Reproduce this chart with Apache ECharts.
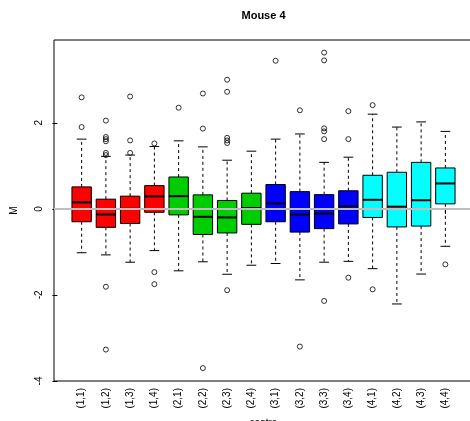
<!DOCTYPE html>
<html>
<head>
<meta charset="utf-8">
<script src="https://cdn.jsdelivr.net/npm/echarts@6/dist/echarts.min.js"></script>
<style>html,body{margin:0;padding:0;background:#fff}#c{width:470px;height:421px}</style>
</head>
<body>
<div id="c"></div>
<script>
const categories = ['(1,1)','(1,2)','(1,3)','(1,4)','(2,1)','(2,2)','(2,3)','(2,4)','(3,1)','(3,2)','(3,3)','(3,4)','(4,1)','(4,2)','(4,3)','(4,4)'];
const lowWhisker = [-1.02,-1.07,-1.24,-0.97,-1.44,-1.23,-1.52,-1.31,-1.27,-1.65,-1.24,-1.22,-1.39,-2.21,-1.515,-0.87];
const q1 =         [-0.30,-0.43,-0.34,-0.08,-0.14,-0.595,-0.56,-0.36,-0.30,-0.54,-0.46,-0.35,-0.20,-0.42,-0.40,0.116];
const median =     [0.15,-0.13,0.00,0.29,0.295,-0.185,-0.20,0.02,0.125,-0.13,-0.11,0.06,0.21,0.05,0.20,0.59];
const q3 =         [0.51,0.225,0.295,0.54,0.74,0.325,0.195,0.364,0.565,0.40,0.33,0.42,0.78,0.85,1.08,0.95];
const highWhisker =[1.62,1.22,1.25,1.45,1.58,1.44,1.13,1.34,1.62,1.74,1.08,1.20,2.20,1.90,2.02,1.80];
const outliers = [
  [2.59,1.90],
  [2.05,1.67,1.62,1.57,1.30,1.25,-1.81,-3.27],
  [2.61,1.59,1.30],
  [1.52,-1.47,-1.75],
  [2.35],
  [2.68,1.865,-3.70],
  [3.00,2.72,1.65,1.59,1.53,-1.89],
  [],
  [3.44],
  [2.29,-3.20],
  [3.63,3.45,1.87,1.80,1.62,-2.14],
  [2.27,1.62,-1.60],
  [2.41,-1.87],
  [],
  [],
  [-1.29]
];
const yTicks = [-4,-2,0,2];
const groupColors = ['#FF0000','#00CD00','#0000FF','#00FFFF'];

const boxData = categories.map((c,i)=>[i+1, lowWhisker[i], q1[i], median[i], q3[i], highWhisker[i]]);
const outData = [];
outliers.forEach((arr,i)=>arr.forEach(v=>outData.push([i+1, v])));
const allVals = lowWhisker.concat(highWhisker, outliers.flat());
const dLo = Math.min(...allVals), dHi = Math.max(...allVals);
const pad = 0.04*(dHi-dLo);
const n = categories.length;
const xPad = 0.04*n;

const chart = echarts.init(document.getElementById('c'), null, {renderer:'canvas'});
chart.setOption({
  animation:false,
  backgroundColor:'#fff',
  textStyle:{fontFamily:'Liberation Sans, Arial, sans-serif'},
  graphic:[{type:'text', x:263.5, y:16, style:{text:'Mouse 4', textAlign:'center', textVerticalAlign:'middle', font:'bold 11px "Liberation Sans", Arial, sans-serif', fill:'#000'}}],
  grid:{left:54, right:-3, top:40, bottom:40, show:true, borderColor:'#000', borderWidth:1, backgroundColor:'transparent', containLabel:false, outerBoundsMode:'none'},
  xAxis:{
    type:'value', min:0.5-xPad, max:n+0.5+xPad,
    splitLine:{show:false}, axisLine:{show:false},
    axisTick:{show:true, customValues:categories.map((c,i)=>i+1), length:5, lineStyle:{color:'#000'}},
    axisLabel:{customValues:categories.map((c,i)=>i+1), formatter:v=>categories[Math.round(v)-1], rotate:90, fontSize:10, color:'#000', margin:7},
    name:'centre', nameLocation:'middle', nameGap:37, nameTextStyle:{fontSize:10, color:'#000'}
  },
  yAxis:{
    type:'value', min:-4, max:dHi+pad,
    splitLine:{show:false}, axisLine:{show:false},
    axisTick:{show:true, customValues:yTicks, length:5, lineStyle:{color:'#000'}},
    axisLabel:{customValues:yTicks, rotate:90, fontSize:10, color:'#000', margin:10, showMinLabel:true},
    name:'M', nameLocation:'middle', nameGap:35, nameRotate:90, nameTextStyle:{fontSize:10, color:'#000'}
  },
  series:[
    {
      type:'custom', z:1,
      data:boxData,
      encode:{x:0, y:[1,2,3,4,5]},
      renderItem:function(params, api){
        const x = api.value(0);
        const idx = params.dataIndex;
        const pLo = api.coord([x, api.value(1)]);
        const pQ1 = api.coord([x, api.value(2)]);
        const pMd = api.coord([x, api.value(3)]);
        const pQ3 = api.coord([x, api.value(4)]);
        const pHi = api.coord([x, api.value(5)]);
        const bw = api.size([0.8, 0])[0];
        const sw = bw*0.5;
        const cx = pMd[0];
        const dash = {stroke:'#000', lineWidth:1, lineDash:[3,3]};
        const solid = {stroke:'#000', lineWidth:1};
        return {type:'group', children:[
          {type:'line', shape:{x1:cx, y1:pQ3[1], x2:cx, y2:pHi[1]}, style:dash},
          {type:'line', shape:{x1:cx, y1:pQ1[1], x2:cx, y2:pLo[1]}, style:dash},
          {type:'line', shape:{x1:cx-sw/2, y1:pHi[1], x2:cx+sw/2, y2:pHi[1]}, style:solid},
          {type:'line', shape:{x1:cx-sw/2, y1:pLo[1], x2:cx+sw/2, y2:pLo[1]}, style:solid},
          {type:'rect', shape:{x:cx-bw/2, y:pQ3[1], width:bw, height:pQ1[1]-pQ3[1]}, style:{fill:groupColors[Math.floor(idx/4)], stroke:'#000', lineWidth:1}},
          {type:'line', shape:{x1:cx-bw/2, y1:pMd[1], x2:cx+bw/2, y2:pMd[1]}, style:{stroke:'#000', lineWidth:2}}
        ]};
      }
    },
    {
      type:'scatter', z:3,
      data:outData,
      symbol:'circle', symbolSize:5,
      itemStyle:{color:'rgba(0,0,0,0)', borderColor:'#000', borderWidth:1},
      markLine:{silent:true, symbol:['none','none'], label:{show:false},
        lineStyle:{color:'#BEBEBE', width:2, type:'solid'}, data:[{yAxis:0}]}
    }
  ]
});
</script>
</body>
</html>
